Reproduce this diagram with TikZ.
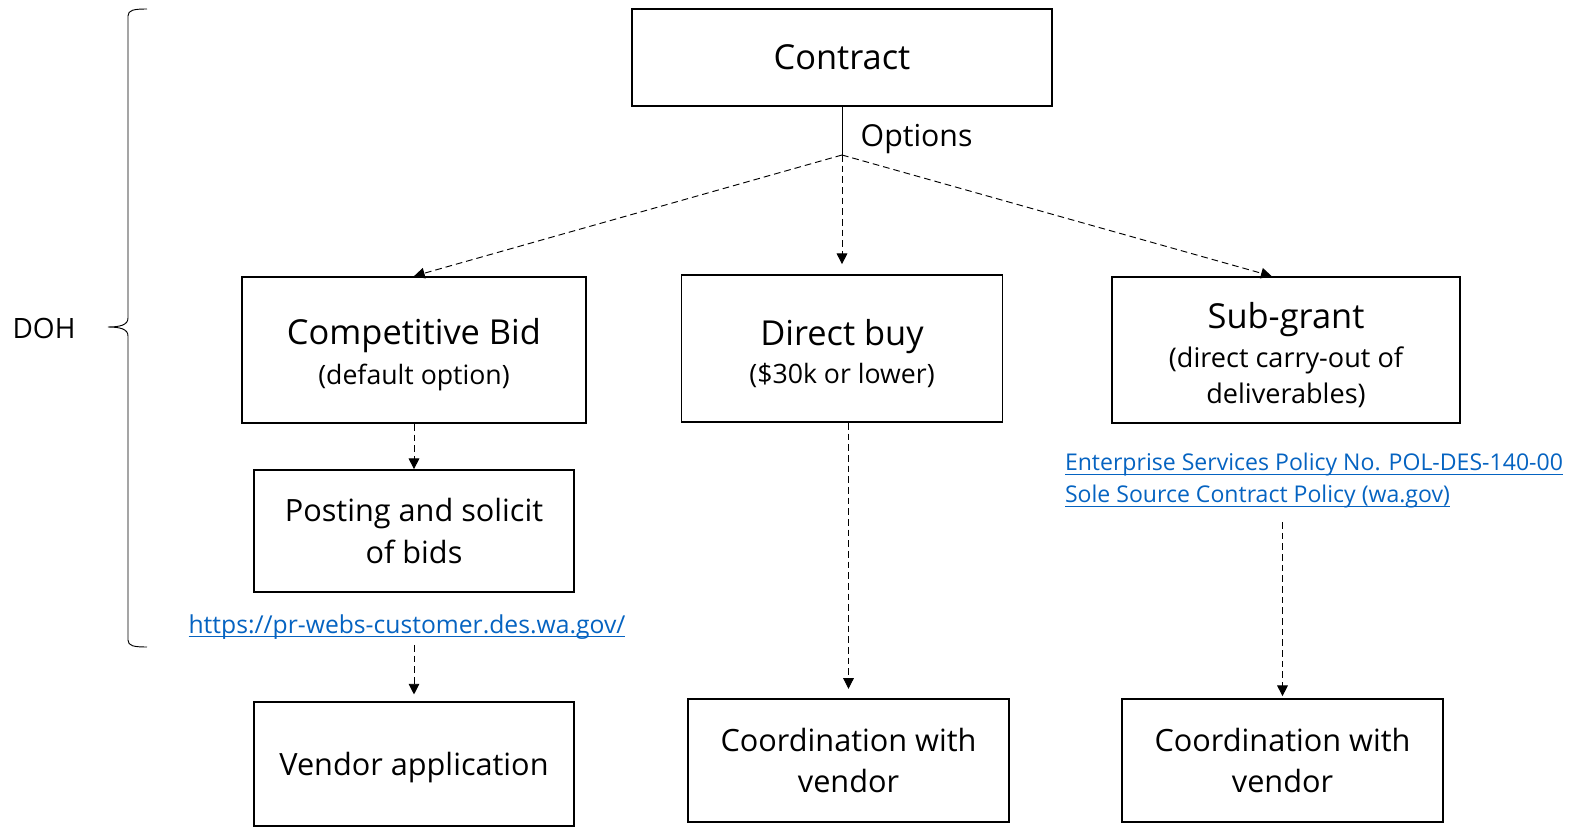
\documentclass[tikz,border=0pt]{standalone}
\usepackage{fontspec}
\setmainfont{Open Sans}
\usepackage{tikz}
\usetikzlibrary{arrows.meta}
\definecolor{linkblue}{RGB}{5,99,193}
\newcommand{\titlefont}{\fontsize{25.8}{30}\selectfont}
\newcommand{\subfont}{\fontsize{20}{24}\selectfont}
\newcommand{\boxfont}{\fontsize{23}{31}\selectfont}
\newcommand{\linkfont}{\fontsize{17.3}{24}\selectfont}
\newcommand{\topstrut}{\rule{0pt}{27pt}}
\newsavebox{\ulbox}
\newcommand{\linkul}[1]{\sbox\ulbox{#1}\rlap{\rule[-3pt]{\wd\ulbox}{0.8pt}}\usebox\ulbox}

\begin{document}
\begin{tikzpicture}[x=0.75pt,y=0.75pt,yscale=-1,
  box/.style 2 args={draw,line width=1.3pt,minimum width=#1*0.75pt,minimum height=#2*0.75pt,inner sep=0pt,align=center},
  flow/.style={dash pattern=on 5pt off 3pt,line width=0.7pt,-{Triangle[length=8pt,width=8pt]}},
  linktxt/.style={text=linkblue,font=\linkfont,inner sep=2pt}]
\useasboundingbox (0,0) rectangle (1574,827);

%Shape: Brace
\draw [line width=0.7pt] (147,9) .. controls (134,9) and (128,10) .. (128,16) -- (128,318) .. controls (128,325) and (120,327) .. (108,327) .. controls (120,327) and (128,329) .. (128,336) -- (128,640) .. controls (128,646) and (134,647) .. (147,647) ;
\node [font=\fontsize{21}{25}\selectfont] (doh) at (44,328) {DOH};

%Shape: Rectangle
\node [box={420}{97}, font=\titlefont] (contract) at (842,57.5) {Contract};
\coordinate (hub) at (842,155);
\node [font=\fontsize{22.7}{27}\selectfont, anchor=west] (optlabel) at (856,139) {Options};

\node [box={344}{146}, font=\subfont] (compbid) at (414,350) {{\titlefont\topstrut Competitive Bid}\\[6pt](default option)};
\node [box={321}{147}, font=\subfont] (directbuy) at (842,348.5) {{\titlefont\topstrut Direct buy}\\[5pt](\$30k or lower)};
\node [box={348}{146}, font=\fontsize{20.3}{27}\selectfont] (subgrant) at (1286,350) {{\titlefont\topstrut Sub-grant}\\[2pt](direct carry-out of\\deliverables)};

\node [box={320}{122}, font=\boxfont] (posting) at (414,531) {Posting and solicit\\of bids};
\node [box={320}{124}, font=\boxfont, text depth=0pt] (vendorapp) at (414,764) {Vendor application};
\node [box={321}{123}, font=\boxfont] (coordone) at (848.5,760.5) {Coordination with\\vendor};
\node [box={321}{123}, font=\boxfont] (coordtwo) at (1282.5,760.5) {Coordination with\\vendor};

%Links
\node [linktxt, font=\fontsize{18.5}{24}\selectfont] (weblink) at (407,627) {\linkul{https://pr-webs-customer.des.wa.gov/}};
\node [linktxt, align=left] (sspolicy) at (1314,481) {\linkul{Enterprise Services Policy No. POL-DES-140-00}\\\linkul{Sole Source Contract Policy (wa.gov)}};

%Straight Lines
\draw [line width=0.7pt] (contract.south) -- (hub) ;
\draw [flow] (hub) -- (compbid.north) ;
\draw [flow, shorten >=7.5pt] (hub) -- (directbuy.north) ;
\draw [flow] (hub) -- (subgrant.101) ;
\draw [flow] (compbid.south) -- (posting.north) ;
\draw [flow, shorten <=2pt, shorten >=5pt] (vendorapp.north |- weblink.south) -- (vendorapp.north) ;
\draw [flow, shorten >=7pt] (directbuy.south -| coordone.north) -- (coordone.north) ;
\draw [flow, shorten <=8pt, shorten >=1.5pt] (coordtwo.north |- sspolicy.south) -- (coordtwo.north) ;

\end{tikzpicture}
\end{document}
